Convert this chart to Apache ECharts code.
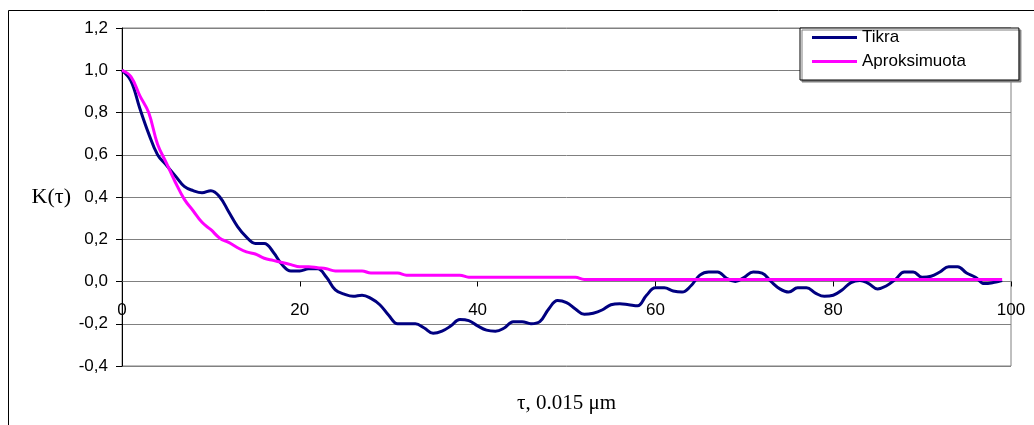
<!DOCTYPE html>
<html>
<head>
<meta charset="utf-8">
<script src="https://cdn.jsdelivr.net/npm/echarts@6/dist/echarts.min.js"></script>
<style>
html,body{margin:0;padding:0;background:#fff;}
#chart{width:1034px;height:425px;}
</style>
</head>
<body>
<div id="chart"></div>
<script>
// tau steps (0.015 µm units)
var tau = [];
for (var i = 0; i < 100; i++) tau.push(i);

var tikra = [
  1.00, 0.95, 0.82, 0.70, 0.60, 0.55, 0.50, 0.45, 0.43, 0.42,
  0.43, 0.40, 0.33, 0.26, 0.21, 0.18, 0.18, 0.14, 0.08, 0.05,
  0.05, 0.06, 0.06, 0.02, -0.04, -0.06, -0.07, -0.065, -0.08, -0.11,
  -0.16, -0.20, -0.20, -0.20, -0.22, -0.245, -0.235, -0.21, -0.18, -0.185,
  -0.21, -0.23, -0.235, -0.22, -0.19, -0.19, -0.20, -0.19, -0.13, -0.09,
  -0.10, -0.13, -0.155, -0.15, -0.135, -0.11, -0.105, -0.11, -0.115, -0.065,
  -0.03, -0.03, -0.045, -0.05, -0.02, 0.03, 0.045, 0.045, 0.015, 0.00,
  0.02, 0.045, 0.04, 0.00, -0.035, -0.05, -0.03, -0.03, -0.055, -0.07,
  -0.065, -0.04, -0.005, 0.005, -0.01, -0.035, -0.02, 0.01, 0.045, 0.045,
  0.02, 0.025, 0.045, 0.07, 0.07, 0.04, 0.02, -0.01, -0.005, 0.005
];

var aproksimuota = [
  1.00, 0.97, 0.88, 0.80, 0.65, 0.56, 0.47, 0.39, 0.335, 0.28,
  0.245, 0.205, 0.185, 0.16, 0.14, 0.13, 0.11, 0.10, 0.09, 0.08,
  0.07, 0.07, 0.065, 0.06, 0.05, 0.05, 0.05, 0.05, 0.04, 0.04,
  0.04, 0.04, 0.03, 0.03, 0.03, 0.03, 0.03, 0.03, 0.03, 0.02,
  0.02, 0.02, 0.02, 0.02, 0.02, 0.02, 0.02, 0.02, 0.02, 0.02,
  0.02, 0.02, 0.01, 0.01, 0.01, 0.01, 0.01, 0.01, 0.01, 0.01,
  0.01, 0.01, 0.01, 0.01, 0.01, 0.01, 0.01, 0.01, 0.01, 0.01,
  0.01, 0.01, 0.01, 0.01, 0.01, 0.01, 0.01, 0.01, 0.01, 0.01,
  0.01, 0.01, 0.01, 0.01, 0.01, 0.01, 0.01, 0.01, 0.01, 0.01,
  0.01, 0.01, 0.01, 0.01, 0.01, 0.01, 0.01, 0.01, 0.01, 0.01
];

var seriesNames = ['Tikra', 'Aproksimuota'];
var xTicks = [0, 20, 40, 60, 80, 100];
var yTicks = [-0.4, -0.2, 0.0, 0.2, 0.4, 0.6, 0.8, 1.0, 1.2];

function pairs(ys) { return tau.map(function (t, k) { return [t, ys[k]]; }); }

var chart = echarts.init(document.getElementById('chart'), null, {renderer: 'canvas'});
chart.setOption({
  backgroundColor: '#ffffff',
  animation: false,
  graphic: [{
    type: 'rect',
    shape: {x: 8.5, y: 10.5, width: 1200, height: 600},
    style: {fill: 'none', stroke: '#000', lineWidth: 1},
    silent: true, z: -10
  }],
  grid: {
    left: 122, right: 23, top: 28, bottom: 59,
    containLabel: false, outerBoundsMode: 'none',
    show: true, borderColor: '#808080', borderWidth: 1, backgroundColor: 'transparent'
  },
  legend: {
    orient: 'vertical',
    left: 800, top: 28,
    padding: [1, 53, 10, 12],
    itemGap: 7,
    itemWidth: 45, itemHeight: 3,
    icon: 'rect',
    backgroundColor: '#ffffff',
    borderColor: '#000000', borderWidth: 1,
    shadowColor: '#808080', shadowOffsetX: 2, shadowOffsetY: 2, shadowBlur: 0,
    textStyle: {fontFamily: 'Liberation Sans, Arial, sans-serif', fontSize: 17, color: '#000', lineHeight: 16},
    data: seriesNames
  },
  xAxis: {
    type: 'value',
    min: xTicks[0], max: xTicks[xTicks.length - 1], interval: 20,
    name: 'τ, 0.015 μm',
    nameLocation: 'middle', nameGap: 27,
    nameTextStyle: {fontFamily: 'Liberation Serif, Times New Roman, serif', fontSize: 21, color: '#000'},
    axisLine: {onZero: true, lineStyle: {color: '#808080', width: 1}},
    axisTick: {show: true, length: 5, lineStyle: {color: '#000'}},
    axisLabel: {fontFamily: 'Liberation Sans, Arial, sans-serif', fontSize: 17, color: '#000', margin: -64},
    splitLine: {show: false}
  },
  yAxis: {
    type: 'value',
    min: yTicks[0], max: yTicks[yTicks.length - 1], interval: 0.2,
    name: 'K(τ)',
    nameLocation: 'middle', nameRotate: 0, nameGap: 51,
    nameTextStyle: {fontFamily: 'Liberation Serif, Times New Roman, serif', fontSize: 22, color: '#000'},
    axisLine: {show: true, onZero: false, lineStyle: {color: '#000', width: 1}},
    axisTick: {show: true, length: 6, lineStyle: {color: '#000'}},
    axisLabel: {
      fontFamily: 'Liberation Sans, Arial, sans-serif', fontSize: 17, color: '#000', margin: 14,
      formatter: function (v) { return v.toFixed(1).replace('.', ','); }
    },
    splitLine: {show: true, lineStyle: {color: '#808080', width: 1}}
  },
  series: [{
    name: seriesNames[0], type: 'line', data: pairs(tikra),
    showSymbol: false, smooth: 0.4,
    lineStyle: {color: '#000080', width: 3},
    itemStyle: {color: '#000080'}, z: 3
  }, {
    name: seriesNames[1], type: 'line', data: pairs(aproksimuota),
    showSymbol: false, smooth: 0.4,
    lineStyle: {color: '#ff00ff', width: 3},
    itemStyle: {color: '#ff00ff'}, z: 4
  }]
});
</script>
</body>
</html>
